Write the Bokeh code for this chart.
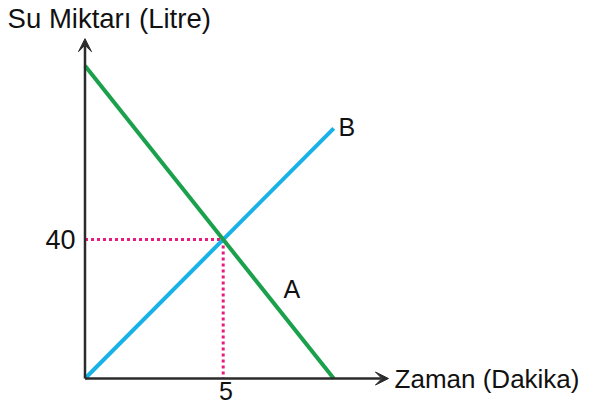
from bokeh.plotting import figure
from bokeh.models import Range1d, Arrow, VeeHead
from bokeh.core.properties import value
from bokeh.embed import file_html
from bokeh.resources import INLINE

# Data
a_x = [0, 9]
a_y = [90, 0]
b_x = [0, 9]
b_y = [0, 72]
meet_x = 5
meet_y = 40
x_title = "Zaman (Dakika)"
y_title = "Su Miktarı (Litre)"
x_tick_label = "5"
y_tick_label = "40"

W, H = 583, 407
p = figure(width=W, height=H, output_backend="svg", toolbar_location=None,
           x_range=Range1d(-3.057, 18.036), y_range=Range1d(-8.34, 108.78),
           min_border=0, outline_line_color=None)
p.axis.visible = False
p.grid.visible = False
p.background_fill_color = "white"
p.border_fill_color = "white"

FONT = value("Liberation Sans")
ink = "#2b2b2b"
txt = "#111111"

# dotted guides
p.line([0, meet_x], [meet_y, meet_y], line_color="#e8197f", line_width=3, line_dash="3 3")
p.line([meet_x, meet_x], [meet_y, 0], line_color="#e8197f", line_width=3, line_dash="3 3")

# axes with arrows
p.add_layout(Arrow(x_start=0, y_start=0, x_end=10.98, y_end=0, line_color=ink, line_width=2.5,
                   end=VeeHead(size=13, fill_color=ink, line_color=ink)))
p.add_layout(Arrow(x_start=0, y_start=0, x_end=0, y_end=97.8, line_color=ink, line_width=2.5,
                   end=VeeHead(size=13, fill_color=ink, line_color=ink)))

# lines
p.line(b_x, b_y, line_color="#18b2e8", line_width=4)
p.line(a_x, a_y, line_color="#1ba04c", line_width=4)

# labels
p.text(x=[b_x[-1] + 0.17], y=[b_y[-1] + 0.5], text=["B"], text_font=FONT, text_font_size="25px",
       text_color=txt, text_baseline="middle", text_align="left")
p.text(x=[7.18], y=[25.9], text=["A"], text_font=FONT, text_font_size="25px",
       text_color=txt, text_baseline="middle", text_align="left")
p.text(x=[-0.34], y=[meet_y], text=[y_tick_label], text_font=FONT, text_font_size="27px",
       text_color=txt, text_baseline="middle", text_align="right")
p.text(x=[meet_x + 0.1], y=[-3.6], text=[x_tick_label], text_font=FONT, text_font_size="25px",
       text_color=txt, text_baseline="middle", text_align="center")
p.text(x=[11.2], y=[0], text=[x_title], text_font=FONT, text_font_size="26px",
       text_color=txt, text_baseline="middle", text_align="left")
p.text(x=[-2.8], y=[103.6], text=[y_title], text_font=FONT, text_font_size="27.5px",
       text_color=txt, text_baseline="middle", text_align="left")

open("out.html", "w").write(file_html(p, INLINE))
